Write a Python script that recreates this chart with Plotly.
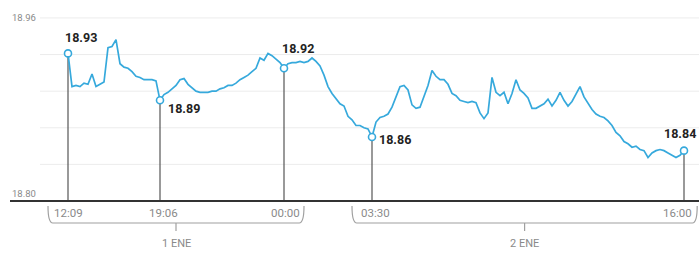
import plotly.graph_objects as go

values = [
    18.929, 18.900, 18.901, 18.900, 18.903, 18.902, 18.911, 18.900, 18.902, 18.904,
    18.934, 18.935, 18.941, 18.920, 18.917, 18.916, 18.913, 18.909, 18.908, 18.906,
    18.906, 18.906, 18.905, 18.888, 18.893, 18.895, 18.898, 18.901, 18.906, 18.907,
    18.902, 18.899, 18.896, 18.895, 18.895, 18.895, 18.896, 18.896, 18.898, 18.899,
    18.901, 18.901, 18.903, 18.906, 18.908, 18.910, 18.913, 18.916, 18.925, 18.923,
    18.929, 18.927, 18.924, 18.921, 18.916, 18.920, 18.921, 18.921, 18.922, 18.921,
    18.922, 18.925, 18.922, 18.918, 18.910, 18.900, 18.894, 18.890, 18.885, 18.883,
    18.874, 18.871, 18.866, 18.866, 18.864, 18.863, 18.856, 18.869, 18.873, 18.874,
    18.876, 18.882, 18.891, 18.900, 18.901, 18.897, 18.884, 18.881, 18.882, 18.892,
    18.901, 18.914, 18.909, 18.906, 18.906, 18.902, 18.894, 18.892, 18.888, 18.887,
    18.886, 18.887, 18.886, 18.877, 18.872, 18.877, 18.908, 18.895, 18.892, 18.895,
    18.885, 18.894, 18.906, 18.897, 18.894, 18.890, 18.881, 18.881, 18.883, 18.885,
    18.889, 18.883, 18.888, 18.895, 18.888, 18.883, 18.887, 18.893, 18.900, 18.891,
    18.885, 18.880, 18.876, 18.874, 18.873, 18.870, 18.866, 18.860, 18.857, 18.852,
    18.850, 18.847, 18.848, 18.845, 18.844, 18.838, 18.842, 18.844, 18.845, 18.844,
    18.842, 18.840, 18.838, 18.840, 18.844,
]
idx = list(range(len(values)))

highlight_idx = [0, 23, 54, 76, len(values) - 1]
highlight_times = ["12:09", "19:06", "00:00", "03:30", "16:00"]
day_labels = ["1 ENE", "2 ENE"]
day_groups = [(0, 54), (76, len(values) - 1)]
grid_vals = [18.80, 18.832, 18.864, 18.896, 18.928, 18.96]
y_labels = ["18.80", "18.96"]

# ---- styles / geometry ----
W, H = 699, 254
BLUE = "#36a9dc"
GREY = "#8a8a8a"
FONT = "Roboto"
PX_PER_UNIT = 1 / 0.000874


def px(X):
    return X / W


def py(Y):
    return 1 - Y / H


fig = go.Figure()

hx = highlight_idx
hy = [values[i] for i in hx]

# drop lines from highlighted points to the baseline
for i, v in zip(hx, hy):
    fig.add_shape(type="line", xref="x", yref="y", x0=i, x1=i, y0=18.80, y1=v,
                  line=dict(color="#555555", width=1.2), layer="below")

# gridlines
for g in grid_vals[1:]:
    fig.add_shape(type="line", xref="paper", yref="y", x0=px(40), x1=1, y0=g, y1=g,
                  line=dict(color="#ececec", width=1), layer="below")

# baseline
fig.add_shape(type="line", xref="paper", yref="y", x0=px(10), x1=1, y0=18.80, y1=18.80,
              line=dict(color="#333333", width=2))

fig.add_trace(go.Scatter(x=idx, y=values, mode="lines",
                         line=dict(color=BLUE, width=1.7), hoverinfo="skip"))
fig.add_trace(go.Scatter(x=hx, y=hy, mode="markers",
                         marker=dict(size=7, color="white", line=dict(color=BLUE, width=1.6)),
                         hoverinfo="skip"))

# value labels
offsets = [(-5, 16, "left"), (6, -8, "left"), (-4, 20, "left"), (5, -3, "left"), (-4, 17, "center")]
for (i, v), (dx, dy, anc) in zip(zip(hx, hy), offsets):
    fig.add_annotation(x=i, y=v, xref="x", yref="y", text=f"<b>{v:.2f}</b>", showarrow=False,
                       xanchor=anc, yanchor="middle", xshift=dx, yshift=dy,
                       font=dict(family=FONT, size=12.5, color="#222222"))

# time labels
time_shift = [0, 3, 1, 3, -7]
for i, t, s in zip(hx, highlight_times, time_shift):
    fig.add_annotation(x=i, y=py(213), xref="x", yref="paper", text=t, showarrow=False,
                       xanchor="center", yanchor="middle", xshift=s,
                       font=dict(family=FONT, size=11.5, color=GREY))

# day brackets
pad_l, pad_r = 5, 5
xmax = 157.3
ytop, ybot, ytick = py(206), py(223), py(231)
for (a, b), lab in zip(day_groups, day_labels):
    x0 = a - pad_l
    x1 = min(b + pad_r, xmax)
    r = 1.2
    path = (f"M {x0},{ytop} Q {x0},{ybot} {x0 + r},{ybot} "
            f"L {x1 - r},{ybot} Q {x1},{ybot} {x1},{ytop}")
    fig.add_shape(type="path", xref="x", yref="paper", path=path,
                  line=dict(color="#a0a0a0", width=1.2))
    mid = (x0 + x1) / 2
    fig.add_shape(type="line", xref="x", yref="paper", x0=mid, x1=mid, y0=ybot, y1=ytick,
                  line=dict(color="#a0a0a0", width=1.2))
    fig.add_annotation(x=mid, y=py(243), xref="x", yref="paper", text=lab, showarrow=False,
                       xanchor="center", yanchor="middle",
                       font=dict(family=FONT, size=11, color=GREY))

# y labels
fig.add_annotation(x=px(10), y=18.96, xref="paper", yref="y", text=y_labels[1], showarrow=False,
                   xanchor="left", yanchor="middle", font=dict(family=FONT, size=9.5, color=GREY))
fig.add_annotation(x=px(10), y=18.80, xref="paper", yref="y", text=y_labels[0], showarrow=False,
                   xanchor="left", yanchor="middle", yshift=8,
                   font=dict(family=FONT, size=9.5, color=GREY))

# axis ranges so that index i sits at x = 68 + 4*i px and 18.80 sits at y = 201 px
x_lo = (0 - 68) / 4
x_hi = (W - 68) / 4
y_lo = 18.80 - (H - 201) / PX_PER_UNIT
y_hi = 18.80 + 201 / PX_PER_UNIT

fig.update_layout(
    width=W, height=H, margin=dict(l=0, r=0, t=0, b=0),
    paper_bgcolor="white", plot_bgcolor="white", showlegend=False,
    xaxis=dict(range=[x_lo, x_hi], visible=False, fixedrange=True),
    yaxis=dict(range=[y_lo, y_hi], visible=False, fixedrange=True),
)

fig.write_html(
    "out.html",
    config={"displayModeBar": False},
    post_script="document.body.style.margin='0';document.body.style.overflow='hidden';",
)
